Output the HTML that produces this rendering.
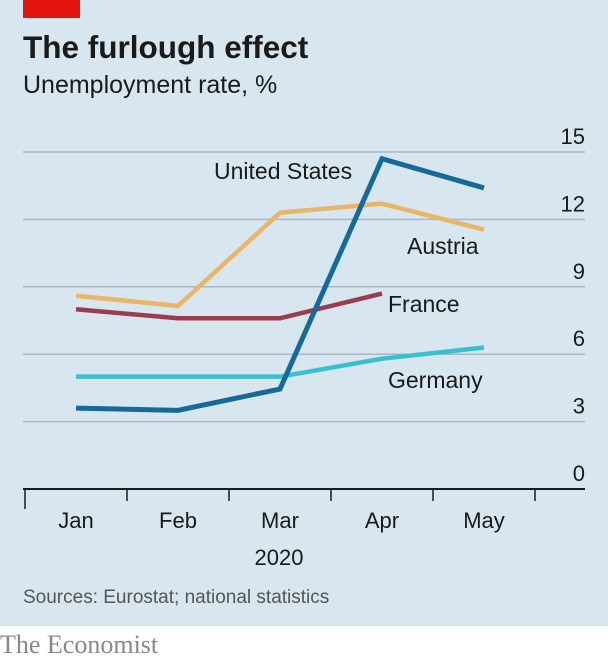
<!DOCTYPE html>
<html><head><meta charset="utf-8"><style>
html,body{margin:0;padding:0;}
body{width:608px;height:662px;background:#fff;position:relative;overflow:hidden;font-family:"Liberation Sans",sans-serif;}
#panel{position:absolute;left:0;top:0;width:608px;height:626px;background:#d7e6ef;}
</style></head><body>
<div id="panel"></div>
<svg id="chart" width="608" height="662" style="position:absolute;left:0;top:0">
<rect x="23" y="0" width="57" height="18" fill="#e3120b"/>
<text x="23" y="58" font-size="31.5" font-weight="bold" fill="#1a1a1a">The furlough effect</text>
<text x="23" y="93" font-size="25" fill="#1a1a1a">Unemployment rate, %</text>
<g id="grid"></g><g id="lines"></g><g id="labels"></g>
<text x="279" y="565" font-size="22" fill="#1a1a1a" text-anchor="middle">2020</text>
<text x="23" y="603" font-size="19" fill="#555">Sources: Eurostat; national statistics</text>
<text x="0" y="653" font-size="26" fill="#888" font-family="Liberation Serif, serif">The Economist</text>
</svg>
<script>
const months = ["Jan","Feb","Mar","Apr","May"];
const yTicks = [0,3,6,9,12,15];
const usVals = [3.6,3.5,4.45,14.7,13.4];
const austriaVals = [8.6,8.15,12.3,12.7,11.55];
const franceVals = [8.0,7.6,7.6,8.7];
const germanyVals = [5.0,5.0,5.0,5.8,6.3];

const NS="http://www.w3.org/2000/svg";
function xPos(i){return 76+i*102;}
function yPos(v){return 489-v*(337/15);}
function mk(tag,attrs,parent){const e=document.createElementNS(NS,tag);for(const k in attrs)e.setAttribute(k,attrs[k]);parent.appendChild(e);return e;}
const grid=document.getElementById('grid'),lines=document.getElementById('lines'),labels=document.getElementById('labels');
yTicks.forEach(v=>{
  const y=yPos(v);
  if(v>0){const l=mk('line',{x1:23,x2:585,y1:y,y2:y,stroke:'#a9b8c2','stroke-width':1.5},grid);
  
  }
  const t=mk('text',{x:585,y:y-8,'font-size':22,fill:'#1a1a1a','text-anchor':'end'},grid);
  t.textContent=v;
  
  
});
const ax=mk('line',{x1:23,x2:585,y1:yPos(0),y2:yPos(0),stroke:'#1a1a1a','stroke-width':2},grid);


for(let i=0;i<=months.length;i++){
  const x=xPos(i)-51;
  const tk=mk('line',{x1:x,x2:x,y1:yPos(0),y2:yPos(0)+(i==0?20:12),stroke:'#1a1a1a','stroke-width':1.5},grid);
  
  
}
months.forEach((m,i)=>{
  const t=mk('text',{x:xPos(i),y:528,'font-size':22,fill:'#1a1a1a','text-anchor':'middle'},grid);
  t.textContent=m;
  
  
});
function series(vals,color,w,name){
  const p=mk('polyline',{points:vals.map((v,i)=>xPos(i)+','+yPos(v)).join(' '),fill:'none',stroke:color,'stroke-width':w,'stroke-linejoin':'miter'},lines);
  
  
}
series(germanyVals,'#37c0d2',4.5,'germany-line');
series(franceVals,'#9a3c4e',4.5,'france-line');
series(austriaVals,'#e8b666',4.5,'austria-line');
series(usVals,'#15699b',5,'united-states-line');
function lab(txt,x,y,name){const t=mk('text',{x:x,y:y,'font-size':23,fill:'#1a1a1a'},labels);t.textContent=txt;
  
  }
lab('United States',214,179,'us-label');
lab('Austria',407,254,'austria-label');
lab('France',388,312,'france-label');
lab('Germany',388,388,'germany-label');
</script>
</body></html>
